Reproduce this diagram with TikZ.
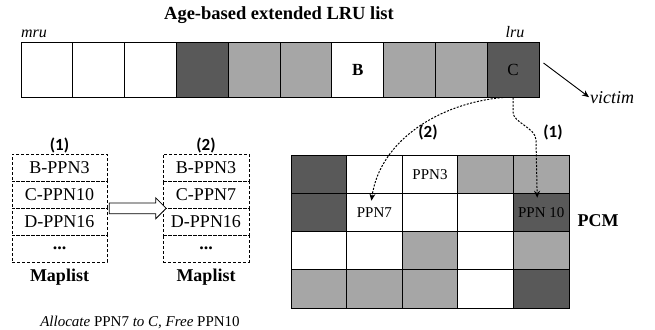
\documentclass[tikz,border=0pt]{standalone}
\usepackage{fontspec}
\setmainfont{Liberation Serif}
\newfontfamily\calfont{Carlito}
\usetikzlibrary{shapes.arrows,arrows.meta,calc}
\definecolor{dk}{RGB}{89,89,89}
\definecolor{lt}{RGB}{166,166,166}
\begin{document}
\begin{tikzpicture}[x=1pt,y=-1pt,
  cell/.style={draw,line width=1pt,minimum width=51.8pt,minimum height=54pt,inner sep=0pt,font=\fontsize{17}{20}\selectfont},
  pcm/.style={draw,line width=1pt,minimum width=55.6pt,minimum height=38.25pt,inner sep=0pt},
  entry/.style={draw,densely dashed,line width=0.7pt,minimum height=27pt,inner sep=0pt,font=\fontsize{18}{21}\selectfont},
  num/.style={font=\calfont\bfseries\fontsize{17}{20}\selectfont},
  hollow/.style={single arrow,draw,fill=white,line width=0.8pt,minimum height=57pt,inner xsep=0pt,inner ysep=5pt,single arrow head extend=5pt},
  move/.style={dash pattern=on 2pt off 1.5pt,line width=1pt,-{Stealth[length=7pt,width=6pt]}}]
\useasboundingbox (0,0) rectangle (655,329);

% LRU list
\node[font=\bfseries\fontsize{18.5}{21}\selectfont,anchor=base] (title) at (279,20) {Age-based extended LRU list};
\foreach \c/\t [count=\i] in {white/,white/,white/,dk/,lt/,lt/,white/\textbf{B},lt/,lt/,dk/C}
  \node[cell,fill=\c] (l\i) at ({21+51.8*(\i-0.5)},70) {\t};
\node[font=\itshape\fontsize{16}{19}\selectfont,anchor=base] (mru) at (34,37.5) {mru};
\node[font=\itshape\fontsize{16}{19}\selectfont,anchor=base] (lru) at (515,37.5) {lru};
\node[font=\itshape\fontsize{18}{21}\selectfont,anchor=base west,inner sep=1pt] (victim) at (589,103) {victim};
\draw[-{Stealth[length=7pt,width=6pt]},line width=0.9pt] ($(l10.east)+(4,-7)$) -- (victim.west);

% maplists
\foreach \t [count=\i] in {B-PPN3,C-PPN10,D-PPN16,\textbf{...}}
  \node[entry,minimum width=95pt] (a\i) at (59.5,{154+27*(\i-0.5)}) {\t};
\foreach \t [count=\i] in {B-PPN3,C-PPN7,D-PPN16,\textbf{...}}
  \node[entry,minimum width=86pt] (b\i) at (206,{154+27*(\i-0.5)}) {\t};
\node[num] (n1) at (59.5,145) {(1)};
\node[num] (n2) at (206,145) {(2)};
\node[font=\bfseries\fontsize{18}{21}\selectfont,anchor=base] (map1) at (59.5,281) {Maplist};
\node[font=\bfseries\fontsize{18}{21}\selectfont,anchor=base] (map2) at (206,281) {Maplist};
\path (a2.south east) -- (b2.south west) node[midway,hollow] (upd) {};
\node[font=\fontsize{15}{18}\selectfont,anchor=base] (note) at (140,326) {\textit{Allocate} PPN7 \textit{to C, Free} PPN10};

% PCM grid
\foreach \row [count=\r] in {{dk,white,white,lt,lt},{dk,white,white,white,dk},{white,white,lt,white,lt},{lt,lt,lt,white,dk}}
  \foreach \c [count=\k] in \row
    \node[pcm,fill=\c] (p\r\k) at ({291+55.6*(\k-0.5)},{155+38.25*(\r-0.5)}) {};
\node[font=\fontsize{15}{18}\selectfont] (ppn3) at (p13) {PPN3};
\node[font=\fontsize{15}{18}\selectfont] (ppn7) at (p22) {PPN7};
\node[font=\fontsize{15}{18}\selectfont] (ppn10) at (p25) {PPN 10};
\node[font=\bfseries\fontsize{18}{21}\selectfont] (pcmlab) at (598,221) {PCM};

% moves
\draw[move] (l10.south) -- ++(0,15) .. controls +(0,10) and +(0,-12) .. (536,140) -- ($(p25.north)+(-4,5)$);
\draw[move] ($(l10.south)+(-10,0)$) .. controls (440,103) and (380,140) .. ($(p22.north)+(-3,8)$);
\node[num] (m2) at (428,132) {(2)};
\node[num] (m1) at (553,132) {(1)};
\end{tikzpicture}
\end{document}
